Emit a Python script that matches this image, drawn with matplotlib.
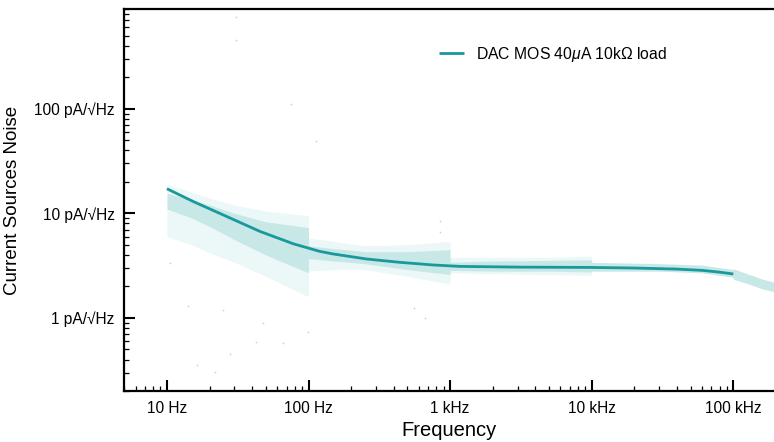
import matplotlib
matplotlib.use("Agg")
import matplotlib.pyplot as plt
from matplotlib.ticker import FixedLocator, LogLocator, NullFormatter

plt.rcParams['font.family'] = ['Liberation Sans', 'DejaVu Sans']
plt.rcParams['mathtext.fontset'] = 'custom'
plt.rcParams['mathtext.rm'] = 'Liberation Sans'
plt.rcParams['mathtext.it'] = 'Liberation Sans:italic'

# Smoothed current-source noise (pA/sqrt(Hz)) versus frequency (Hz)
fit_freq = [10, 15.3, 26.4, 45.4, 78, 120, 149, 257, 442, 755, 1170,
            3100, 9700, 20000, 40000, 60000, 80000, 100000]
fit_noise = [17.2, 13.0, 9.34, 6.72, 5.12, 4.33, 4.09, 3.66, 3.40, 3.21, 3.11,
             3.06, 3.04, 3.00, 2.93, 2.85, 2.74, 2.63]

# Spread of the raw measurement points, one sweep per decade
seg_a_freq = [10, 15, 20, 30, 50, 70, 100]
seg_a_outer_hi = [19, 16, 14, 12, 10.5, 10, 9.5]
seg_a_outer_lo = [6.0, 5.0, 4.2, 3.4, 2.5, 2.0, 1.6]
seg_a_core_hi = [15.5, 13.5, 12, 10, 8.3, 7.8, 7.3]
seg_a_core_lo = [11.0, 9.0, 7.5, 5.6, 4.0, 3.3, 2.7]

seg_b_freq = [100, 150, 250, 500, 1000]
seg_b_outer_hi = [5.8, 5.4, 4.9, 5.0, 5.4]
seg_b_outer_lo = [2.8, 2.9, 2.9, 2.5, 2.1]
seg_b_core_hi = [4.9, 4.6, 4.3, 4.3, 4.5]
seg_b_core_lo = [3.7, 3.5, 3.3, 2.9, 2.6]

seg_c_freq = [1000, 2000, 5000, 10000]
seg_c_outer_hi = [3.8, 3.8, 3.8, 3.9]
seg_c_outer_lo = [2.7, 2.65, 2.6, 2.55]
seg_c_core_hi = [3.4, 3.5, 3.55, 3.6]
seg_c_core_lo = [2.85, 2.8, 2.8, 2.75]

seg_d_freq = [10000, 30000, 60000, 100000]
seg_d_outer_hi = [3.4, 3.3, 3.2, 2.9]
seg_d_outer_lo = [2.8, 2.8, 2.7, 2.45]

seg_e_freq = [100000, 130000, 160000, 194000]
seg_e_outer_hi = [2.95, 2.6, 2.35, 2.2]
seg_e_outer_lo = [2.35, 2.1, 1.9, 1.78]

# Isolated measurement points away from the main cloud
stray_freq = [31, 31, 75, 113, 16.2, 21.8, 27.9, 42.5, 66, 99, 48, 14, 25, 10.5,
              847, 847, 555, 664]
stray_noise = [755, 455, 111, 49.7, 0.358, 0.307, 0.456, 0.585, 0.574, 0.729, 0.90,
               1.29, 1.20, 3.38, 8.4, 6.7, 1.25, 1.0]

x_ticks = [10, 100, 1000, 10000, 100000]
x_tick_labels = ['10 Hz', '100 Hz', '1 kHz', '10 kHz', '100 kHz']
y_ticks = [1, 10, 100]
y_tick_labels = ['1 pA/\u221aHz', '10 pA/\u221aHz', '100 pA/\u221aHz']

series_label = 'DAC MOS 40$\\mu$A 10k\u03a9 load'
teal = '#18999b'

fig = plt.figure(figsize=(7.74, 4.42), dpi=100)
ax = fig.add_axes([0.1606, 0.1154, 0.8394, 0.8642])
ax.set_xscale('log')
ax.set_yscale('log')
ax.set_xlim(5, 1.94e5)
ax.set_ylim(0.2, 900)

outer_alpha = 0.08
core_alpha = 0.17
for f, lo, hi in [(seg_a_freq, seg_a_outer_lo, seg_a_outer_hi),
                  (seg_b_freq, seg_b_outer_lo, seg_b_outer_hi),
                  (seg_c_freq, seg_c_outer_lo, seg_c_outer_hi),
                  (seg_d_freq, seg_d_outer_lo, seg_d_outer_hi),
                  (seg_e_freq, seg_e_outer_lo, seg_e_outer_hi)]:
    ax.fill_between(f, lo, hi, color=teal, alpha=outer_alpha, linewidth=0)
for f, lo, hi in [(seg_a_freq, seg_a_core_lo, seg_a_core_hi),
                  (seg_b_freq, seg_b_core_lo, seg_b_core_hi),
                  (seg_c_freq, seg_c_core_lo, seg_c_core_hi),
                  (seg_d_freq, seg_d_outer_lo, seg_d_outer_hi),
                  (seg_e_freq, seg_e_outer_lo, seg_e_outer_hi)]:
    ax.fill_between(f, lo, hi, color=teal, alpha=core_alpha, linewidth=0)

ax.scatter(stray_freq, stray_noise, s=1.5, color=teal, alpha=0.35, linewidths=0)

ax.plot(fit_freq, fit_noise, color=teal, linewidth=2.0, label=series_label,
        solid_capstyle='butt')

# Axes frame: left, bottom and top drawn, right side open
for side in ['left', 'bottom', 'top']:
    ax.spines[side].set_linewidth(1.6)
ax.spines['right'].set_visible(False)

ax.xaxis.set_major_locator(FixedLocator(x_ticks))
ax.set_xticklabels(x_tick_labels)
ax.xaxis.set_minor_locator(LogLocator(base=10, subs=range(2, 10), numticks=20))
ax.xaxis.set_minor_formatter(NullFormatter())
ax.yaxis.set_major_locator(FixedLocator(y_ticks))
ax.set_yticklabels(y_tick_labels)
ax.yaxis.set_minor_locator(LogLocator(base=10, subs=range(2, 10), numticks=20))
ax.yaxis.set_minor_formatter(NullFormatter())

ax.tick_params(which='major', direction='in', length=8, width=1.5,
               labelsize=11.2, pad=7, top=False, right=False)
ax.tick_params(which='minor', direction='in', length=3.5, width=0.9,
               top=False, right=False)

ax.set_xlabel('Frequency', fontsize=14.5, labelpad=4)
ax.set_ylabel('Current Sources Noise', fontsize=13.5, labelpad=9)

ax.legend(loc='center left', bbox_to_anchor=(439 / 774, 1 - 54 / 442),
          bbox_transform=fig.transFigure, frameon=False, fontsize=11.3,
          handlelength=1.6, handletextpad=0.75, borderpad=0, borderaxespad=0)

fig.savefig('out.png', dpi=100)
